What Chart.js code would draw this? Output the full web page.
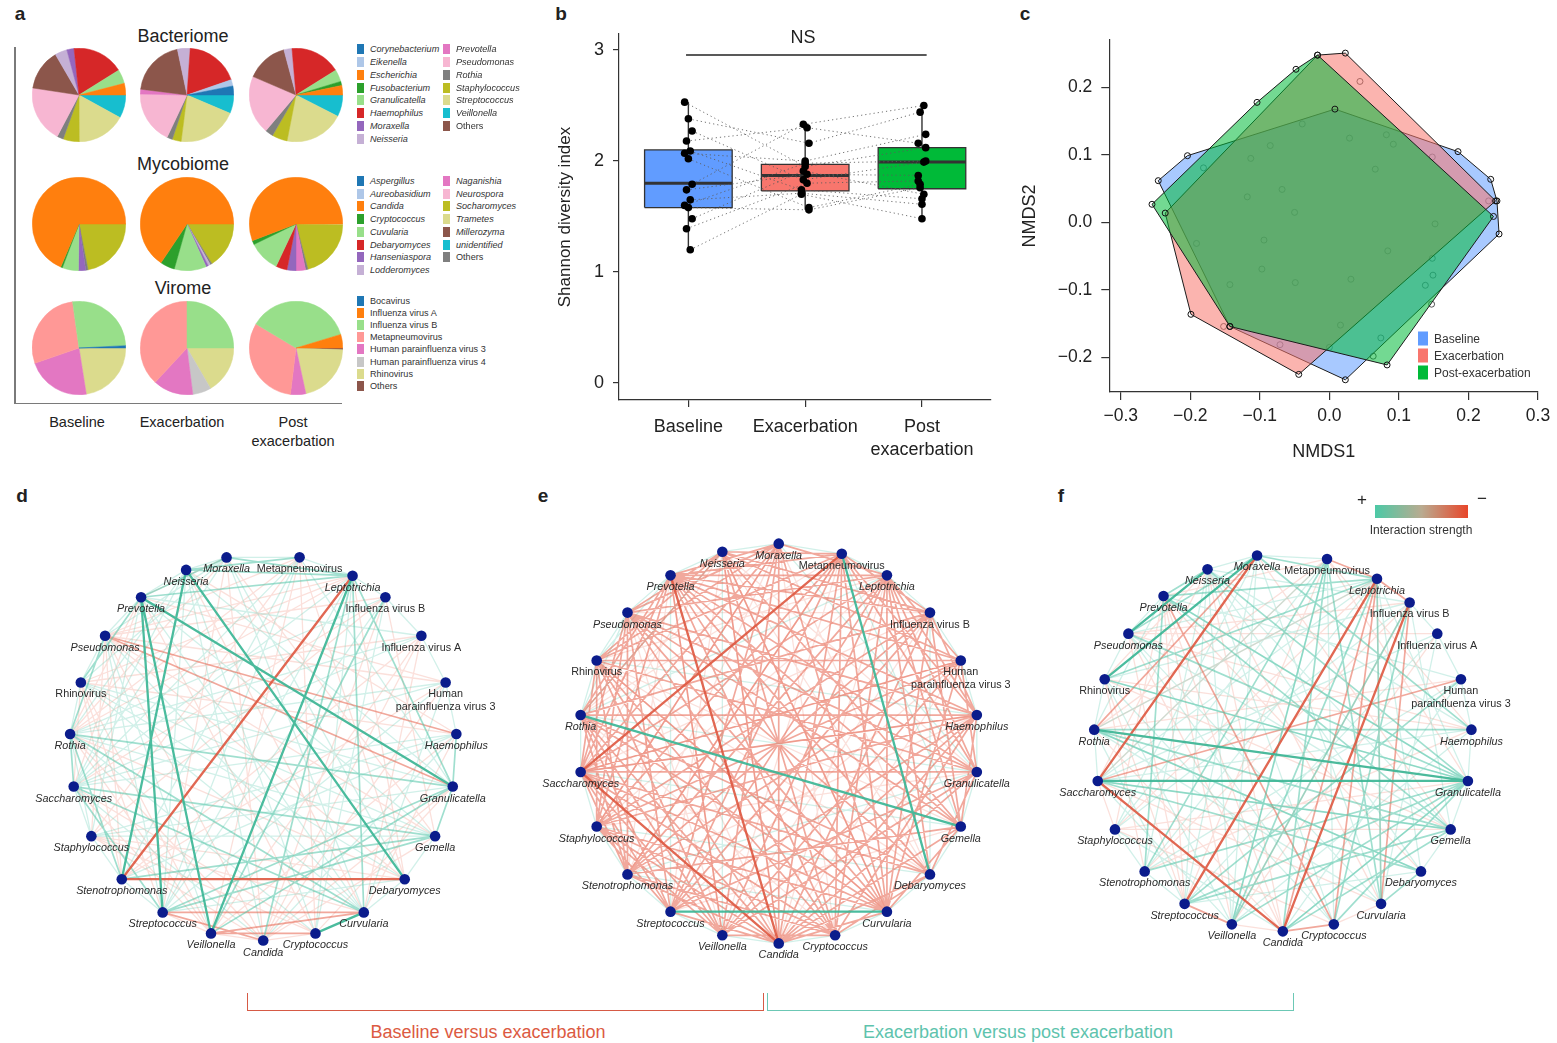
<!DOCTYPE html>
<html lang="en">
<head>
<meta charset="UTF-8">
<meta name="viewport" content="width=device-width, initial-scale=1.0">
<title>Airway bacteriome, mycobiome and virome across exacerbation</title>
<script src="https://cdn.jsdelivr.net/npm/chart.js"></script>
<style>
  body {
    margin: 0;
    background: #fff;
    font-family: 'Liberation Sans', Arial, Helvetica, sans-serif;
    color: #222;
  }
  #page { position: relative; width: 1557px; height: 1043px; overflow: hidden; }
  #page canvas { position: absolute; }
  .t { position: absolute; white-space: nowrap; transform: translate(-50%, -50%); }
  .tag { position: absolute; font-weight: bold; font-size: 19px; transform: translate(-50%, -50%); }
  .rule { position: absolute; background: #7a7a7a; }
  .key { position: absolute; display: flex; align-items: center; height: 12px; transform: translateY(-50%);
         font-size: 9.1px; white-space: nowrap; color: #333; }
  .key .sw { width: 7px; height: 10px; margin-right: 6px; }
  .key .it { font-style: italic; }
  .bracket { position: absolute; border: 1.6px solid; border-top: none; }
</style>
</head>
<body>
<div id="page">
  <div class="tag" style="left:20px;top:14px">a</div>
  <div class="tag" style="left:561px;top:14px">b</div>
  <div class="tag" style="left:1025px;top:14px">c</div>
  <div class="tag" style="left:22px;top:496px">d</div>
  <div class="tag" style="left:543px;top:496px">e</div>
  <div class="tag" style="left:1061px;top:496px">f</div>

  <!-- panel a frame and headings -->
  <div class="rule" style="left:14px;top:47px;width:1.5px;height:357px"></div>
  <div class="rule" style="left:14px;top:402.5px;width:328px;height:1.5px"></div>
  <div class="t" style="left:183px;top:36px;font-size:18px">Bacteriome</div>
  <div class="t" style="left:183px;top:164px;font-size:18px">Mycobiome</div>
  <div class="t" style="left:183px;top:288px;font-size:18px">Virome</div>
  <div class="t" style="left:77px;top:422px;font-size:14.5px">Baseline</div>
  <div class="t" style="left:182px;top:422px;font-size:14.5px">Exacerbation</div>
  <div class="t" style="left:293px;top:422px;font-size:14.5px">Post</div>
  <div class="t" style="left:293px;top:441px;font-size:14.5px">exacerbation</div>

  <!-- panel b -->
  <canvas id="shannon" width="460" height="450" style="left:540px;top:20px"></canvas>
  <div class="t" style="left:803px;top:37px;font-size:18px">NS</div>

  <!-- panel c -->
  <canvas id="nmds" width="557" height="450" style="left:1000px;top:20px"></canvas>

  <!-- panels d-f -->
  <canvas id="netBaseline" width="520" height="490" style="left:0px;top:490px"></canvas>
  <canvas id="netExacerbation" width="520" height="490" style="left:520px;top:490px"></canvas>
  <canvas id="netPost" width="517" height="490" style="left:1040px;top:490px"></canvas>

  <div class="t" style="left:1362px;top:500px;font-size:17px">+</div>
  <div style="position:absolute;left:1375px;top:505px;width:93px;height:13px;
       background:linear-gradient(to right,#4cc9a6,#b9ab90 50%,#e8462a)"></div>
  <div class="t" style="left:1482px;top:499px;font-size:17px">&minus;</div>
  <div class="t" style="left:1421px;top:530px;font-size:12px;color:#333">Interaction strength</div>

  <div class="bracket" style="left:247px;top:993px;width:515px;height:17px;border-color:#d65a45"></div>
  <div class="bracket" style="left:767px;top:993px;width:525px;height:17px;border-color:#6cc8b5"></div>
  <div class="t" style="left:488px;top:1032px;font-size:18px;color:#dc5a42">Baseline versus exacerbation</div>
  <div class="t" style="left:1018px;top:1032px;font-size:18px;color:#5ec3ad">Exacerbation versus post exacerbation</div>
</div>

<script>
// ---------- panel a: relative abundance (%) ----------
const bacTaxa = ['Corynebacterium', 'Eikenella', 'Escherichia', 'Fusobacterium', 'Granulicatella',
  'Haemophilus', 'Moraxella', 'Neisseria', 'Others', 'Prevotella', 'Pseudomonas', 'Rothia',
  'Staphylococcus', 'Streptococcus', 'Veillonella'];
const bacBaseline     = [0, 0, 4.0, 0, 4.9, 17.8, 2.5, 4.2, 14.2, 0, 19.7, 2.2, 5.6, 16.9, 8.0];
const bacExacerbation = [3.1, 2.2, 0, 0, 0, 18.6, 0, 4.4, 19.7, 1.7, 18.3, 1.9, 3.1, 20.6, 6.4];
const bacPost         = [0, 0, 3.3, 1.4, 4.2, 17.5, 0, 2.8, 14.4, 0, 20.3, 2.8, 5.3, 20.6, 7.5];

const fungTaxa = ['Aspergillus', 'Aureobasidium', 'Candida', 'Cryptococcus', 'Cuvularia',
  'Debaryomyces', 'Hanseniaspora', 'Lodderomyces', 'Millerozyma', 'Naganishia', 'Neurospora',
  'Others', 'Socharomyces', 'Trametes', 'unidentified'];
const fungBaseline     = [0, 0, 68.6, 0.6, 5.6, 0, 2.5, 0, 0, 0, 0, 0.8, 21.9, 0, 0];
const fungExacerbation = [0, 0, 65.6, 5.0, 11.1, 0, 0.8, 0.8, 0, 0, 0, 0.6, 16.1, 0, 0];
const fungPost         = [0, 0, 55.8, 1.4, 10.8, 3.9, 3.1, 0, 0, 3.3, 0, 0.8, 20.6, 0.3, 0];

const virTaxa = ['Bocavirus', 'Influenza virus A', 'Influenza virus B', 'Metapneumovirus',
  'Human parainfluenza virus 3', 'Human parainfluenza virus 4', 'Rhinovirus', 'Others'];
const virBaseline     = [0.8, 0, 26.4, 28.1, 22.2, 0, 22.5, 0];
const virExacerbation = [0, 0, 25.0, 38.1, 13.9, 6.4, 16.6, 0];
const virPost         = [0, 4.7, 36.7, 31.7, 5.3, 0, 21.0, 0.6];

const bacKeyOrder = bacTaxa.filter(n => n !== 'Others').concat('Others');
const fungKeyOrder = ['Aspergillus', 'Aureobasidium', 'Candida', 'Cryptococcus', 'Cuvularia',
  'Debaryomyces', 'Hanseniaspora', 'Lodderomyces', 'Naganishia', 'Neurospora', 'Socharomyces',
  'Trametes', 'Millerozyma', 'unidentified', 'Others'];

// ---------- panel b: Shannon index per subject ----------
const groupLabels = ['Baseline', 'Exacerbation', ['Post', 'exacerbation']];
const shannonBaseline     = [2.53, 2.38, 2.27, 2.18, 2.09, 2.07, 2.02, 1.79, 1.74, 1.65, 1.60, 1.58, 1.48, 1.39, 1.20];
const shannonExacerbation = [1.95, 2.16, 1.83, 2.30, 1.74, 2.00, 1.58, 2.33, 1.88, 1.71, 1.98, 1.56, 1.91, 1.80, 1.70];
const shannonPost         = [2.12, 2.44, 1.99, 2.16, 1.66, 2.24, 1.79, 2.50, 1.87, 1.61, 2.00, 1.76, 1.70, 1.82, 1.48];
const boxQ1       = [1.58, 1.73, 1.75];
const boxMedian   = [1.80, 1.87, 1.99];
const boxQ3       = [2.10, 1.97, 2.12];
const whiskerLow  = [1.20, 1.56, 1.48];
const whiskerHigh = [2.53, 2.33, 2.50];

// ---------- panel c: NMDS ordination ----------
const hullBaselineX = [-0.246, -0.204, 0.008, 0.185, 0.232, 0.241, 0.244, 0.023, -0.143];
const hullBaselineY = [0.062, 0.099, 0.168, 0.105, 0.064, 0.032, -0.017, -0.233, -0.154];
const hullExacerbationX = [-0.236, -0.017, 0.023, 0.239, -0.044, -0.199];
const hullExacerbationY = [0.014, 0.248, 0.251, 0.032, -0.225, -0.136];
const hullPostX = [-0.255, -0.104, -0.048, -0.017, 0.236, 0.083, -0.143];
const hullPostY = [0.027, 0.178, 0.227, 0.248, 0.009, -0.211, -0.154];
const innerBaselineX = [-0.181, -0.085, 0.082, -0.068, 0.152, -0.094, 0.148, -0.143, 0.031, 0.074];
const innerBaselineY = [0.081, 0.114, 0.130, 0.049, -0.002, -0.026, -0.053, -0.092, -0.084, -0.171];
const innerExacerbationX = [-0.113, 0.029, 0.148, 0.044, 0.229, -0.118, 0.084, -0.097, -0.071, -0.152, 0.138];
const innerExacerbationY = [0.095, 0.125, 0.097, 0.209, 0.032, 0.038, -0.042, -0.069, -0.181, -0.154, -0.093];
const innerPostX = [-0.039, 0.092, 0.066, -0.050, -0.191, 0.149, -0.049, 0.016, 0.000, 0.063, 0.147];
const innerPostY = [0.146, 0.116, 0.079, 0.015, -0.031, -0.078, -0.089, -0.152, -0.185, -0.198, -0.121];

// ---------- panels d-f: co-occurrence networks ----------
const nodeNames = ['Moraxella', 'Metapneumovirus', 'Leptotrichia', 'Influenza virus B', 'Influenza virus A',
  'Human parainfluenza virus 3', 'Haemophilus', 'Granulicatella', 'Gemella', 'Debaryomyces', 'Curvularia',
  'Cryptococcus', 'Candida', 'Veillonella', 'Streptococcus', 'Stenotrophomonas', 'Staphylococcus',
  'Saccharomyces', 'Rothia', 'Rhinovirus', 'Pseudomonas', 'Prevotella', 'Neisseria'];
const nodeCodes = ['Mor', 'Met', 'Lep', 'IfB', 'IfA', 'HP3', 'Hae', 'Gra', 'Gem', 'Deb', 'Cur',
  'Cry', 'Can', 'Vei', 'Str', 'Ste', 'Sta', 'Sac', 'Rot', 'Rhi', 'Pse', 'Pre', 'Nei'];
const exacerbationCodes = nodeCodes.filter(c => c !== 'IfA');

// edge = source-target, sign (+ co-occurrence, - exclusion), strength 1..3
const edgesBaseline = `
Pre-Str+3 Pre-Vei+3 Nei-Ste+3 Nei-Deb+3 Pre-Gra+3 Lep-Vei+3 Cry-Cur+3 Lep-Ste-3 Ste-Deb-3
Lep-Gra+2 Mor-Lep+2 Nei-Lep+2 Nei-Met+2 Pre-Lep+2 Pre-Mor+2 Vei-IfB+2 Rot-Cur+2 Sac-Cur+2 Sac-Str+2
Rot-Ste+2 Hae-Gra+2 Gra-Gem+2 Gra-Str+2 Gra-Vei+2 Str-Gem+2 Rhi-Pre+2 Sac-Gem+2 Cur-Lep+2 Can-Lep+2
Gem-Ste+2 Rot-Gra+2 Pse-Hae-2 Pse-Gra-2 Str-Cur-2 Vei-Cur-2 Str-Can-2 Vei-Cry-2 Rot-Sac+2 Pse-Rot+2
Mor-Met+1 Met-Lep+1 Lep-IfB+1 IfB-IfA+1 IfA-HP3+1 HP3-Hae+1 Gem-Deb+1 Deb-Cur+1 Cry-Can-1 Can-Vei-1
Vei-Str-1 Str-Ste+1 Ste-Sta+1 Sta-Sac+1 Rot-Rhi+1 Rhi-Pse+1 Pse-Pre+1 Pre-Nei+1 Nei-Mor+1
Mor-Rot-1 Mor-Sac+1 Mor-Gem-1 Mor-Can-1 Mor-Cur+1 Met-Rot-1 Met-Sta-1 Met-Cry-1 Met-Gra+1 Met-Str+1
Met-Deb-1 Lep-Rhi-1 Lep-Sac+1 Lep-Cry+1 Lep-Deb-1 IfB-Pse-1 IfB-Sta-1 IfB-Can-1 IfB-Str+1 IfB-Rot+1
IfA-Rhi-1 IfA-Ste-1 IfA-Vei-1 IfA-Sac+1 IfA-Cur-1 HP3-Pse-1 HP3-Sac+1 HP3-Can-1 HP3-Str+1 HP3-Rot+1
HP3-Pre-1 Hae-Rhi-1 Hae-Sta+1 Hae-Vei-1 Hae-Ste+1 Hae-Can+1 Hae-Nei-1 Gra-Rhi+1 Gra-Sta+1 Gra-Cry-1
Gra-Nei+1 Gem-Rot+1 Gem-Pse-1 Gem-Can-1 Gem-Pre+1 Gem-Rhi+1 Deb-Rot-1 Deb-Rhi+1 Deb-Sta-1 Deb-Str+1
Cur-Sta-1 Cur-Pse+1 Cur-Nei-1 Cur-Rhi+1 Cry-Sac-1 Cry-Rot+1 Cry-Pre-1 Cry-Nei+1 Can-Rot-1 Can-Pse-1
Can-Nei+1 Can-Sta-1 Vei-Rot-1 Vei-Sac-1 Vei-Pse+1 Str-Rhi-1 Str-Nei+1 Ste-Pse-1 Ste-Met+1 Sta-Pse-1
Sta-Pre+1 Sac-Pre-1 Sac-Nei+1 Rot-Pre-1 Rot-Nei+1 Rhi-Mor+1 Pse-Mor+1
Mor-Pse+1 Mor-Str-1 Mor-Deb+1 Met-Pse-1 Met-Sac+1 Met-Vei-1 Lep-Pse-1 Lep-Str+1 Lep-Rot-1 IfB-Sac-1
IfB-Cry+1 IfB-Gem-1 IfA-Rot+1 IfA-Can-1 IfA-Pre+1 HP3-Ste-1 HP3-Cur+1 Hae-Cur-1 Hae-Sac+1 Gra-Can-1
Gra-Pre-1 Gem-Sta+1 Deb-Pse-1 Cur-Pre+1 Cry-Sta-1 Can-Sac+1 Vei-Rhi-1 Str-Pse+1 Ste-Rhi-1 Sta-Rot+1
Sac-Rhi-1 Pre-Mor-1`;

const edgesExacerbation = `
Met-Deb+3 Rot-Gem+3 Str-Cur+3 Met-Sac-3 Pre-Can-3 Sac-Can-3 Sac-Ste-2 Nei-Vei+1
Met-Ste-2 Met-Str-2 Mor-Pse-2 Mor-Sac-2 Mor-Cur-2 Mor-Can-2 Nei-Cry-2 Nei-Cur-2 Pre-Cry-2 Pre-Hae-2
Pre-Gra-2 Pse-Hae-2 Pse-Cur-2 Pse-Lep-2 Rhi-HP3-2 Rhi-Gra-2 Rhi-Can-2 Rot-Hae-2 Rot-IfB-2 Rot-Cur-2
Sac-Gra-2 Sac-Lep-2 Sac-Cry-2 Sta-Hae-2 Sta-Met-2 Sta-Cur-2 Ste-Gem-2 Ste-IfB-2 Ste-Can-2 Str-Lep-2
Str-Hae-2 Str-Mor-2 Vei-Lep-2 Vei-HP3-2 Vei-Gra-2 Can-Hae-2 Can-IfB-2 Can-Met-2 Cry-Lep-2 Cry-Pse-2
Cur-Lep-2 Cur-IfB-2 Cur-Met-2 Deb-Pre-2 Deb-Pse-2 Gem-Pre-2 Gem-Lep-2 Gra-Lep-2 Hae-IfB-2 Hae-Met-2
HP3-Lep-2 HP3-Pre-2 IfB-Nei-2 Lep-Mor-2 Met-Pre-2 Nei-Rhi-2 Pre-Rot-2 Pse-Sac-2 Rhi-Sta-2 Rot-Ste-2
Sac-Str-2 Sta-Vei-2 Ste-Cry-2 Str-Can-2 Vei-Cry-2 Can-Cur-2 Cry-Deb-2 Cur-Gem-2 Deb-Gra-2 Gem-Hae-2
Gra-HP3-2 Hae-Lep-2 IfB-Met-2 Pre-Sta-2 Pse-Str-2 Rhi-Vei-2 Sta-Str-2
Mor-Rhi-2 Mor-Vei-2 Mor-Sta-2 Met-Cry-2 Met-Rhi-2 Met-Gra-2 Lep-Ste-2 Lep-Pre-2 Lep-Deb-2 IfB-Sta-2
IfB-Str-2 IfB-Pre-2 IfB-Gem-2 HP3-Sta-2 HP3-Ste-2 HP3-Cur-2 HP3-Nei-2 Hae-Cry-2 Hae-Pse-2 Hae-Vei-2
Gra-Can-2 Gra-Str-2 Gra-Pse-2 Gem-Can-2 Gem-Pse-2 Gem-Nei-2 Deb-Can-2 Deb-Sac-2 Deb-Rot-2 Cur-Sac-2
Cur-Pre-2 Cry-Sta-2 Cry-Rhi-2 Can-Sta-2 Can-Rot-2 Vei-Sac-2 Vei-Rot-2 Str-Rot-2 Ste-Rhi-2 Ste-Pse-2
Sta-Pse-2 Sac-Rhi-2 Sac-Pre-2 Rot-Nei-2 Pse-Nei-2 Pre-Mor-2 Nei-Met-2 Sac-Hae-2 Rhi-Cur-2 Pre-Vei-2
Nei-Can-2 Sac-HP3-2
Rot-Gra+1 Pre-Rhi+1 Pse-Rot+1 Sac-Sta+1 Sta-Ste+1 Ste-Str+1 Str-Vei+1 Mor-Nei+1 Mor-Met+1 Met-Lep+1
Lep-IfB+1 IfB-HP3+1 HP3-Hae+1 Hae-Gra+1 Gra-Gem+1 Gem-Deb+1 Deb-Cur+1 Cur-Cry+1 Cry-Can+1 Can-Vei+1
Rhi-Pse+1 Pse-Pre+1 Pre-Nei+1 Rot-Rhi+1 Sac-Rot+1 Nei-Rot+1 Pre-Str+1 Mor-Gra+1 Gem-Sac+1 Deb-Sta+1
Cur-Ste+1 Hae-Rhi+1 Lep-Rot+1 Met-Gem+1 IfB-Deb+1 Gra-Ste+1
Mor-Ste-1 Mor-Rot-1 Mor-Deb-1 Met-Rot-1 Met-Vei-1 Lep-Sta-1 Lep-Can-1 IfB-Sac-1 IfB-Vei-1 HP3-Sac-1
HP3-Str-1 HP3-Can-1 Hae-Sac-1 Hae-Ste-1 Gra-Sta-1 Gra-Nei-1 Gem-Rhi-1 Gem-Str-1 Deb-Rhi-1 Deb-Nei-1
Cur-Rhi-1 Cur-Nei-1 Cry-Rot-1 Cry-Mor-1 Can-Pse-1 Can-Nei-1 Vei-Pre-1 Vei-Pse-1 Str-Nei-1 Ste-Pre-1
Ste-Met-1 Sta-Mor-1 Sac-Nei-1 Rot-Met-1 Rhi-Lep-1 Pse-IfB-1`;

const edgesPost = `
Mor-Sac-3 Lep-Str-3 IfB-Can-3 Sac-Can-3 Lep-Can-2 Rot-Gra+3 Sac-Gra+3 Rhi-Mor+3 Pse-Nei+3
Pre-Lep+2 Rhi-Lep+2 Ste-Pre+2 Vei-Lep+2 Vei-IfB+2 Can-Met+2 Cur-Lep+2 Str-Gra+2 Deb-Cur+2 Nei-Gra+2
Rot-Gem+2 Pre-Nei+2 Mor-Lep+2 Pse-Mor+2 Str-Gem+2 Vei-Gra+2 Cry-Gra+2 Cry-IfB+2 Can-Gem+2 Str-HP3+2
Pse-Gra+2 Pre-Gem+2 Rot-Hae+2 Met-Ste+2 Mor-Hae+2 Sac-Deb+2 Cry-Lep-2 Met-Lep-2 Lep-IfB-2 IfB-Cur-2
HP3-Sac-2 Pre-Cry-2 Vei-Str-2 Can-Cry-2 Mor-Rot-2
Rot-Deb+2 Sac-Gem+2 Pre-Gra+2 Rhi-Gra+2 Ste-Gra+2 Vei-Met+2 Can-Gra+2 Cur-Met+2
Mor-Met+1 IfB-IfA+1 IfA-HP3+1 HP3-Hae+1 Hae-Gra+1 Gra-Gem+1 Gem-Deb+1 Cur-Cry-1 Can-Vei-1 Str-Ste+1
Ste-Sta+1 Sta-Sac-1 Sac-Rot+1 Rot-Rhi+1 Rhi-Pse+1 Pse-Pre+1 Nei-Mor+1 Mor-Gem-1 Mor-Cur+1 Met-Rot-1
Met-Sac+1 Met-Cry+1 Met-Gra-1 Lep-Sta-1 Lep-Rot+1 Lep-Deb+1 IfB-Rhi+1 IfB-Ste-1 IfB-Sta+1 IfA-Pse-1
IfA-Sac+1 IfA-Vei-1 IfA-Str+1 HP3-Rot-1 HP3-Can+1 HP3-Pre+1 Hae-Ste-1 Hae-Vei+1 Hae-Pse-1 Gra-Rhi+1
Gra-Sta-1 Gem-Sac+1 Gem-Rhi-1 Gem-Nei+1 Deb-Rot+1 Deb-Pre-1 Deb-Str+1 Cur-Sac-1 Cur-Pse+1 Cur-Nei-1
Cry-Rhi+1 Cry-Sta-1 Cry-Nei+1 Can-Rot-1 Can-Pse-1 Can-Nei-1 Vei-Rhi+1 Vei-Pre-1 Vei-Sac+1 Str-Pse-1
Str-Nei+1 Ste-Rhi-1 Ste-Nei+1 Sta-Pre-1 Sta-Mor+1 Sac-Nei-1 Rot-Pre+1 Rhi-Nei-1 Pse-Lep+1 Pre-Met-1
Nei-IfB+1 Mor-Vei+1 Met-Str-1 Lep-Sac+1 Gra-Pre+1 Hae-Nei+1
Mor-Str+1 Met-Vei+1 Lep-Gra+1 IfB-Gem+1 IfA-Cur+1 HP3-Ste+1 Hae-Sac+1 Gra-Can+1 Gem-Pse+1 Deb-Nei+1
Cur-Rot+1 Cry-Pse+1 Can-Sta+1 Vei-Nei+1 Str-Rot+1 Ste-Lep+1 Sta-Met+1 Sac-Met-1 Rot-Lep-1 Rhi-Hae-1
Pse-IfB-1 Pre-Str-1 Nei-Cur-1 Pre-Can-1 Met-Hae-1 Lep-Cur-1 IfB-Vei-1 Gra-Rot-1 Gem-Sta-1 Rhi-Str-1`;

// ---------- styling ----------
const tab = {
  blue: '#1f77b4', lblue: '#aec7e8', orange: '#ff7f0e', green: '#2ca02c', lgreen: '#98df8a',
  red: '#d62728', salmon: '#ff9896', purple: '#9467bd', lavender: '#c5b0d5', brown: '#8c564b',
  pink: '#e377c2', lpink: '#f7b6d2', grey: '#7f7f7f', lgrey: '#c7c7c7', olive: '#bcbd22',
  khaki: '#dbdb8d', cyan: '#17becf'
};
const bacColors = {
  Corynebacterium: tab.blue, Eikenella: tab.lblue, Escherichia: tab.orange, Fusobacterium: tab.green,
  Granulicatella: tab.lgreen, Haemophilus: tab.red, Moraxella: tab.purple, Neisseria: tab.lavender,
  Prevotella: tab.pink, Pseudomonas: tab.lpink, Rothia: tab.grey, Staphylococcus: tab.olive,
  Streptococcus: tab.khaki, Veillonella: tab.cyan, Others: tab.brown
};
const fungColors = {
  Aspergillus: tab.blue, Aureobasidium: tab.lblue, Candida: tab.orange, Cryptococcus: tab.green,
  Cuvularia: tab.lgreen, Debaryomyces: tab.red, Hanseniaspora: tab.purple, Lodderomyces: tab.lavender,
  Naganishia: tab.pink, Neurospora: tab.lpink, Socharomyces: tab.olive, Trametes: tab.khaki,
  Millerozyma: tab.brown, unidentified: tab.cyan, Others: tab.grey
};
const virColors = {
  'Bocavirus': tab.blue, 'Influenza virus A': tab.orange, 'Influenza virus B': tab.lgreen,
  'Metapneumovirus': tab.salmon, 'Human parainfluenza virus 3': tab.pink,
  'Human parainfluenza virus 4': tab.lgrey, 'Rhinovirus': tab.khaki, 'Others': tab.brown
};
const groupColors = ['#619CFF', '#F8766D', '#00BA38'];
const hullFill = ['rgba(97,156,255,0.55)', 'rgba(248,118,109,0.55)', 'rgba(0,186,56,0.55)'];
const edgeColor = {
  pos: [null, 'rgba(104,206,182,0.30)', 'rgba(82,196,168,0.55)', 'rgba(60,182,150,0.92)'],
  neg: [null, 'rgba(240,135,115,0.26)', 'rgba(230,100,78,0.56)', 'rgba(222,88,64,0.90)']
};
const edgeWidth = [0, 1.3, 1.7, 2.3];
const FONT = "'Liberation Sans', Arial, Helvetica, sans-serif";

Chart.defaults.font.family = FONT;
Chart.defaults.color = '#222';
Chart.defaults.animation = false;
Chart.defaults.responsive = false;
Chart.defaults.events = [];
Chart.defaults.plugins.legend.display = false;
Chart.defaults.plugins.tooltip.enabled = false;

const page = document.getElementById('page');

// fills the closed outline of a dataset (boxes, convex hulls)
const polyFill = {
  id: 'polyFill',
  beforeDatasetDraw(chart, args) {
    const ds = chart.data.datasets[args.index];
    if (!ds.polyColor) return;
    const ctx = chart.ctx;
    ctx.save();
    ctx.beginPath();
    args.meta.data.forEach((p, i) => i ? ctx.lineTo(p.x, p.y) : ctx.moveTo(p.x, p.y));
    ctx.closePath();
    ctx.fillStyle = ds.polyColor;
    ctx.fill();
    ctx.restore();
  }
};

// keep the plot frame exactly where the layout puts it
const fixedBox = size => s => {
  if (s.isHorizontal()) s.height = size; else s.width = size;
  s.paddingTop = s.paddingBottom = s.paddingLeft = s.paddingRight = 0;
};

// ---------- panel a ----------
const pieX = [79, 187, 296];
const pieY = [95, 224, 347.5];
const pieR = 47;
const pieRows = [
  { taxa: bacTaxa, colors: bacColors, series: [bacBaseline, bacExacerbation, bacPost] },
  { taxa: fungTaxa, colors: fungColors, series: [fungBaseline, fungExacerbation, fungPost] },
  { taxa: virTaxa, colors: virColors, series: [virBaseline, virExacerbation, virPost] }
];
pieRows.forEach((row, r) => row.series.forEach((values, c) => {
  const cv = document.createElement('canvas');
  cv.width = cv.height = pieR * 2;
  cv.style.left = (pieX[c] - pieR) + 'px';
  cv.style.top = (pieY[r] - pieR) + 'px';
  page.appendChild(cv);
  // slices run anticlockwise from 3 o'clock, so feed them reversed and clockwise
  const idx = row.taxa.map((_, i) => row.taxa.length - 1 - i);
  const cols = idx.map(i => row.colors[row.taxa[i]]);
  new Chart(cv, {
    type: 'pie',
    data: {
      labels: idx.map(i => row.taxa[i]),
      datasets: [{ data: idx.map(i => values[i]), backgroundColor: cols, borderColor: cols,
                   borderWidth: 0.5, hoverOffset: 0 }]
    },
    options: { rotation: 90, layout: { padding: 0 } }
  });
}));

function addKey(names, colors, x, y, rowGap, perCol, colGap, italic) {
  names.forEach((name, i) => {
    const d = document.createElement('div');
    d.className = 'key';
    d.style.left = (x + Math.floor(i / perCol) * colGap) + 'px';
    d.style.top = (y + (i % perCol) * rowGap) + 'px';
    const cls = italic && name !== 'Others' ? 'it' : '';
    d.innerHTML = `<span class="sw" style="background:${colors[name]}"></span><span class="${cls}">${name}</span>`;
    page.appendChild(d);
  });
}
addKey(bacKeyOrder, bacColors, 357, 49, 12.85, 8, 86, true);
addKey(fungKeyOrder, fungColors, 357, 181, 12.7, 8, 86, true);
addKey(virTaxa, virColors, 357, 300.5, 12.2, 8, 86, false);

// ---------- panel b ----------
const groupX = [1, 2, 3];
const halfBox = 0.375;
const shannon = [shannonBaseline, shannonExacerbation, shannonPost];
const jitter = i => ((i * 7) % 5 - 2) * 0.016;

const subjectPaths = [];
shannonBaseline.forEach((_, i) => {
  shannon.forEach((s, g) => subjectPaths.push({ x: groupX[g] + jitter(i + g), y: s[i] }));
  subjectPaths.push({ x: 3, y: null });
});
const shannonPoints = [];
shannon.forEach((s, g) => s.forEach((v, i) => shannonPoints.push({ x: groupX[g] + jitter(i + g), y: v })));

const whiskers = [], medians = [];
groupX.forEach((gx, g) => {
  whiskers.push({ x: gx, y: whiskerLow[g] }, { x: gx, y: whiskerHigh[g] }, { x: gx, y: null });
  medians.push({ x: gx - halfBox, y: boxMedian[g] }, { x: gx + halfBox, y: boxMedian[g] }, { x: gx, y: null });
});
const boxes = groupX.map((gx, g) => ({
  data: [{ x: gx - halfBox, y: boxQ1[g] }, { x: gx + halfBox, y: boxQ1[g] }, { x: gx + halfBox, y: boxQ3[g] },
         { x: gx - halfBox, y: boxQ3[g] }, { x: gx - halfBox, y: boxQ1[g] }],
  showLine: true, polyColor: groupColors[g], borderColor: '#333', borderWidth: 1.3, pointRadius: 0, order: 5
}));

new Chart(document.getElementById('shannon'), {
  type: 'scatter',
  data: {
    datasets: [
      { data: whiskers, showLine: true, borderColor: '#333', borderWidth: 1.4, pointRadius: 0, order: 6 },
      ...boxes,
      { data: medians, showLine: true, borderColor: '#333', borderWidth: 3, pointRadius: 0, order: 4 },
      { data: subjectPaths, showLine: true, borderColor: 'rgba(90,90,90,0.85)', borderWidth: 1,
        borderDash: [1.2, 3], pointRadius: 0, order: 3 },
      { data: [{ x: 0.98, y: 2.955 }, { x: 3.04, y: 2.955 }], showLine: true, borderColor: '#222',
        borderWidth: 1.5, pointRadius: 0, order: 3 },
      { data: shannonPoints, pointRadius: 3.8, backgroundColor: '#000', borderWidth: 0, order: 1 }
    ]
  },
  options: {
    layout: { padding: { top: 14, right: 9, left: 0, bottom: 0 } },
    scales: {
      x: {
        type: 'linear', min: 0.406, max: 3.591,
        afterBuildTicks: s => { s.ticks = groupX.map(v => ({ value: v })); },
        afterFit: fixedBox(70),
        grid: { drawOnChartArea: false, tickLength: 7, color: '#333', lineWidth: 1.2 },
        border: { color: '#333', width: 1.2 },
        ticks: { callback: v => groupLabels[v - 1], font: { size: 18, lineHeight: 1.3 }, color: '#222', padding: 8,
                 maxRotation: 0, autoSkip: false }
      },
      y: {
        min: -0.153, max: 3.144,
        afterBuildTicks: s => { s.ticks = [0, 1, 2, 3].map(v => ({ value: v })); },
        afterFit: fixedBox(79),
        grid: { drawOnChartArea: false, tickLength: 6, color: '#333', lineWidth: 1.2 },
        border: { color: '#333', width: 1.2 },
        ticks: { font: { size: 18 }, color: '#222', padding: 9 },
        title: { display: true, text: 'Shannon diversity index', font: { size: 17 }, color: '#222',
                 padding: { top: 15, bottom: 0 } }
      }
    }
  },
  plugins: [polyFill]
});

// ---------- panel c ----------
const toPts = (xs, ys) => xs.map((x, i) => ({ x, y: ys[i] }));
const hulls = [toPts(hullBaselineX, hullBaselineY), toPts(hullExacerbationX, hullExacerbationY),
               toPts(hullPostX, hullPostY)];
const inner = [toPts(innerBaselineX, innerBaselineY), toPts(innerExacerbationX, innerExacerbationY),
               toPts(innerPostX, innerPostY)];
const signed = v => (v < -1e-9 ? '\u2212' : '') + Math.abs(v).toFixed(1);

const nmdsSets = [];
inner.forEach(pts => nmdsSets.push({ data: pts, pointRadius: 3, borderColor: 'rgba(45,45,45,0.8)',
  backgroundColor: 'rgba(0,0,0,0)', borderWidth: 1, order: 12 }));
hulls.forEach((pts, g) => nmdsSets.push({ data: pts.concat([pts[0]]), showLine: true, polyColor: hullFill[g],
  borderColor: '#1b1b1b', borderWidth: 1, pointRadius: 0, order: 9 - g }));
hulls.forEach(pts => nmdsSets.push({ data: pts, pointRadius: 3, borderColor: '#111',
  backgroundColor: 'rgba(0,0,0,0)', borderWidth: 1, order: 1 }));

new Chart(document.getElementById('nmds'), {
  type: 'scatter',
  data: { datasets: nmdsSets },
  options: {
    layout: { padding: { top: 20, right: 19, left: 0, bottom: 0 } },
    scales: {
      x: {
        min: -0.3164, max: 0.3,
        afterBuildTicks: s => { s.ticks = [-0.3, -0.2, -0.1, 0, 0.1, 0.2, 0.3].map(v => ({ value: v })); },
        afterFit: fixedBox(78),
        grid: { drawOnChartArea: false, tickLength: 8, color: '#333', lineWidth: 1.2 },
        border: { color: '#333', width: 1.2 },
        ticks: { callback: signed, font: { size: 17.5 }, color: '#222', padding: 6, maxRotation: 0, autoSkip: false },
        title: { display: true, text: 'NMDS1', font: { size: 18 }, color: '#222', padding: { top: 0, bottom: 7 } }
      },
      y: {
        min: -0.2511, max: 0.2704,
        afterBuildTicks: s => { s.ticks = [-0.2, -0.1, 0, 0.1, 0.2].map(v => ({ value: v })); },
        afterFit: fixedBox(109.3),
        grid: { drawOnChartArea: false, tickLength: 8, color: '#333', lineWidth: 1.2 },
        border: { color: '#333', width: 1.2 },
        ticks: { callback: signed, font: { size: 17.5 }, color: '#222', padding: 9 },
        title: { display: true, text: 'NMDS2', font: { size: 18 }, color: '#222', padding: { top: 19, bottom: 0 } }
      }
    }
  },
  plugins: [polyFill]
});

['Baseline', 'Exacerbation', 'Post-exacerbation'].forEach((name, g) => {
  const d = document.createElement('div');
  d.className = 'key';
  d.style.left = '1418px';
  d.style.top = (338 + g * 17) + 'px';
  d.style.fontSize = '12px';
  d.style.height = '15px';
  d.innerHTML = `<span class="sw" style="width:10px;height:14px;background:${groupColors[g]}"></span>${name}`;
  page.appendChild(d);
});

// ---------- panels d-f ----------
const nodeLabels = {
  id: 'nodeLabels',
  afterDatasetsDraw(chart, args, opts) {
    const meta = chart.getDatasetMeta(chart.data.datasets.length - 1);
    const ctx = chart.ctx;
    ctx.save();
    ctx.fillStyle = '#2b2b2b';
    ctx.textAlign = 'center';
    ctx.textBaseline = 'middle';
    meta.data.forEach((pt, i) => {
      const name = opts.names[i];
      const lines = name.startsWith('Human ') ? ['Human', name.slice(6)] : [name];
      ctx.font = (/virus/.test(name) ? '' : 'italic ') + '10.8px ' + FONT;
      lines.forEach((ln, k) => ctx.fillText(ln, pt.x, pt.y + 12 + k * 13));
    });
    ctx.restore();
  }
};

function parseEdges(text, codes) {
  return text.trim().split(/\s+/).map(tok => {
    const m = tok.match(/^(\w+)-(\w+)([+-])(\d)$/);
    return { a: codes.indexOf(m[1]), b: codes.indexOf(m[2]), pos: m[3] === '+', tier: +m[4] };
  }).filter(e => e.a >= 0 && e.b >= 0);
}

// circle layout; `spread` pushes a few crowded top nodes apart (degrees)
function drawNetwork(id, codes, edgeText, cx, cy, r, spread) {
  const cv = document.getElementById(id);
  const n = codes.length;
  const bottom = codes.indexOf('Can');
  const nodes = codes.map((c, i) => {
    const a = Math.PI + (i - bottom) * 2 * Math.PI / n + (spread[c] || 0) * Math.PI / 180;
    return { x: cx + r * Math.sin(a), y: cy - r * Math.cos(a) };
  });
  const edges = parseEdges(edgeText, codes);
  const datasets = [];
  [1, 2, 3].forEach(tier => [true, false].forEach(pos => {
    const pts = [];
    edges.filter(e => e.tier === tier && e.pos === pos).forEach(e => {
      pts.push({ ...nodes[e.a] }, { ...nodes[e.b] }, { x: nodes[e.a].x, y: null });
    });
    datasets.push({ data: pts, showLine: true, pointRadius: 0, borderCapStyle: 'round',
      borderColor: edgeColor[pos ? 'pos' : 'neg'][tier], borderWidth: edgeWidth[tier], order: 10 - tier });
  }));
  datasets.push({ data: nodes, pointRadius: 5.3, backgroundColor: '#0b1c8c', borderWidth: 0, order: 0 });

  new Chart(cv, {
    type: 'scatter',
    data: { datasets },
    options: {
      layout: { padding: 0 },
      scales: {
        x: { display: false, min: 0, max: cv.width },
        y: { display: false, min: 0, max: cv.height, reverse: true }
      },
      plugins: { nodeLabels: { names: codes.map(c => nodeNames[nodeCodes.indexOf(c)]) } }
    },
    plugins: [nodeLabels]
  });
}

drawNetwork('netBaseline', nodeCodes, edgesBaseline, 263.3, 257.5, 197.6, { Mor: -3.1, Met: 3.0, Lep: 4.0 });
drawNetwork('netExacerbation', exacerbationCodes, edgesExacerbation, 258.7, 253.7, 204.3, { Met: 2.0 });
drawNetwork('netPost', nodeCodes, edgesPost, 242.5, 252.7, 193, { Met: 5.7, Lep: 6.4, IfB: 3.0 });
</script>
</body>
</html>
